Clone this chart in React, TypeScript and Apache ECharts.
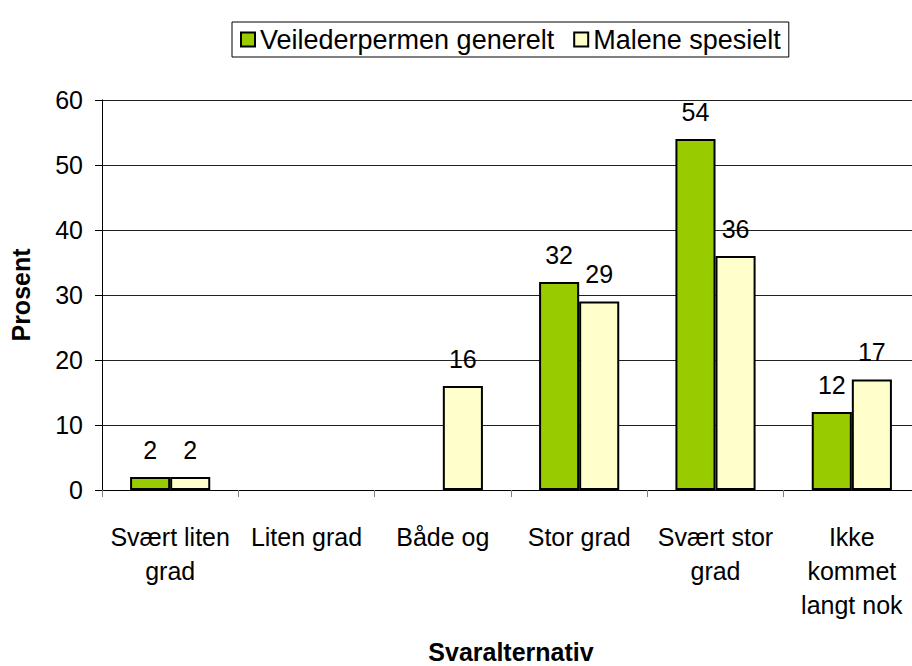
import React, { useEffect, useRef } from "react";
import * as echarts from "echarts";

const categories = [
  "Svært liten\ngrad",
  "Liten grad",
  "Både og",
  "Stor grad",
  "Svært stor\ngrad",
  "Ikke\nkommet\nlangt nok",
];
const seriesNames = ["Veilederpermen generelt", "Malene spesielt"];
const generelt: (number | null)[] = [2, null, null, 32, 54, 12];
const spesielt: (number | null)[] = [2, null, 16, 29, 36, 17];
const yMin = 0;
const yMax = 60;
const yInterval = 10;
const xTitle = "Svaralternativ";
const yTitle = "Prosent";

const FONT = "'Liberation Sans', Arial, Helvetica, sans-serif";

export default function App() {
  const ref = useRef<HTMLDivElement>(null);
  useEffect(() => {
    if (!ref.current) return;
    const chart = echarts.init(ref.current, null, { renderer: "svg" });
    const label = {
      show: true,
      position: "top",
      distance: 15,
      fontSize: 25,
      fontFamily: FONT,
      color: "#000",
    };
    chart.setOption({
      animation: false,
      backgroundColor: "#fff",
      textStyle: { fontFamily: FONT },
      legend: {
        left: 232,
        top: 22,
        padding: [4, 8, 4, 8],
        itemWidth: 14,
        itemHeight: 14,
        itemGap: 19,
        icon: "rect",
        borderColor: "#000",
        borderWidth: 1,
        textStyle: { fontSize: 27, lineHeight: 27, fontFamily: FONT, color: "#000" },
        data: seriesNames,
      },
      grid: {
        left: 102,
        top: 100,
        width: 818,
        height: 390,
        containLabel: false,
        outerBoundsMode: "none",
      },
      xAxis: {
        type: "category",
        data: categories,
        name: xTitle,
        nameLocation: "middle",
        nameGap: 149,
        nameTextStyle: { fontSize: 25, fontWeight: "bold", color: "#000", fontFamily: FONT },
        axisLine: { show: true, lineStyle: { color: "#000", width: 1 } },
        axisTick: { show: true, length: 7, lineStyle: { color: "#808080" } },
        axisLabel: {
          interval: 0,
          margin: 30,
          fontSize: 25,
          lineHeight: 34,
          color: "#000",
          fontFamily: FONT,
          align: "center",
        },
      },
      yAxis: {
        type: "value",
        min: yMin,
        max: yMax,
        interval: yInterval,
        name: yTitle,
        nameLocation: "middle",
        nameRotate: 90,
        nameGap: 69,
        nameTextStyle: { fontSize: 25, fontWeight: "bold", color: "#000", fontFamily: FONT },
        axisLine: { show: true, lineStyle: { color: "#000", width: 1 } },
        axisTick: { show: true, length: 7, lineStyle: { color: "#000" } },
        axisLabel: { fontSize: 25, margin: 19, color: "#000", fontFamily: FONT },
        splitLine: { show: true, lineStyle: { color: "#222", width: 1 } },
      },
      series: [
        {
          name: seriesNames[0],
          type: "bar",
          data: generelt,
          barWidth: "29.4%",
          barGap: "0%",
          itemStyle: { color: "#99CC00", borderColor: "#000", borderWidth: 2 },
          label,
        },
        {
          name: seriesNames[1],
          type: "bar",
          data: spesielt,
          barWidth: "29.4%",
          barGap: "0%",
          itemStyle: { color: "#FFFFCC", borderColor: "#000", borderWidth: 2 },
          label,
        },
      ],
    });
    return () => chart.dispose();
  }, []);
  return (
    <div
      ref={ref}
      style={{ position: "absolute", left: 0, top: 0, width: 912, height: 666 }}
    />
  );
}
